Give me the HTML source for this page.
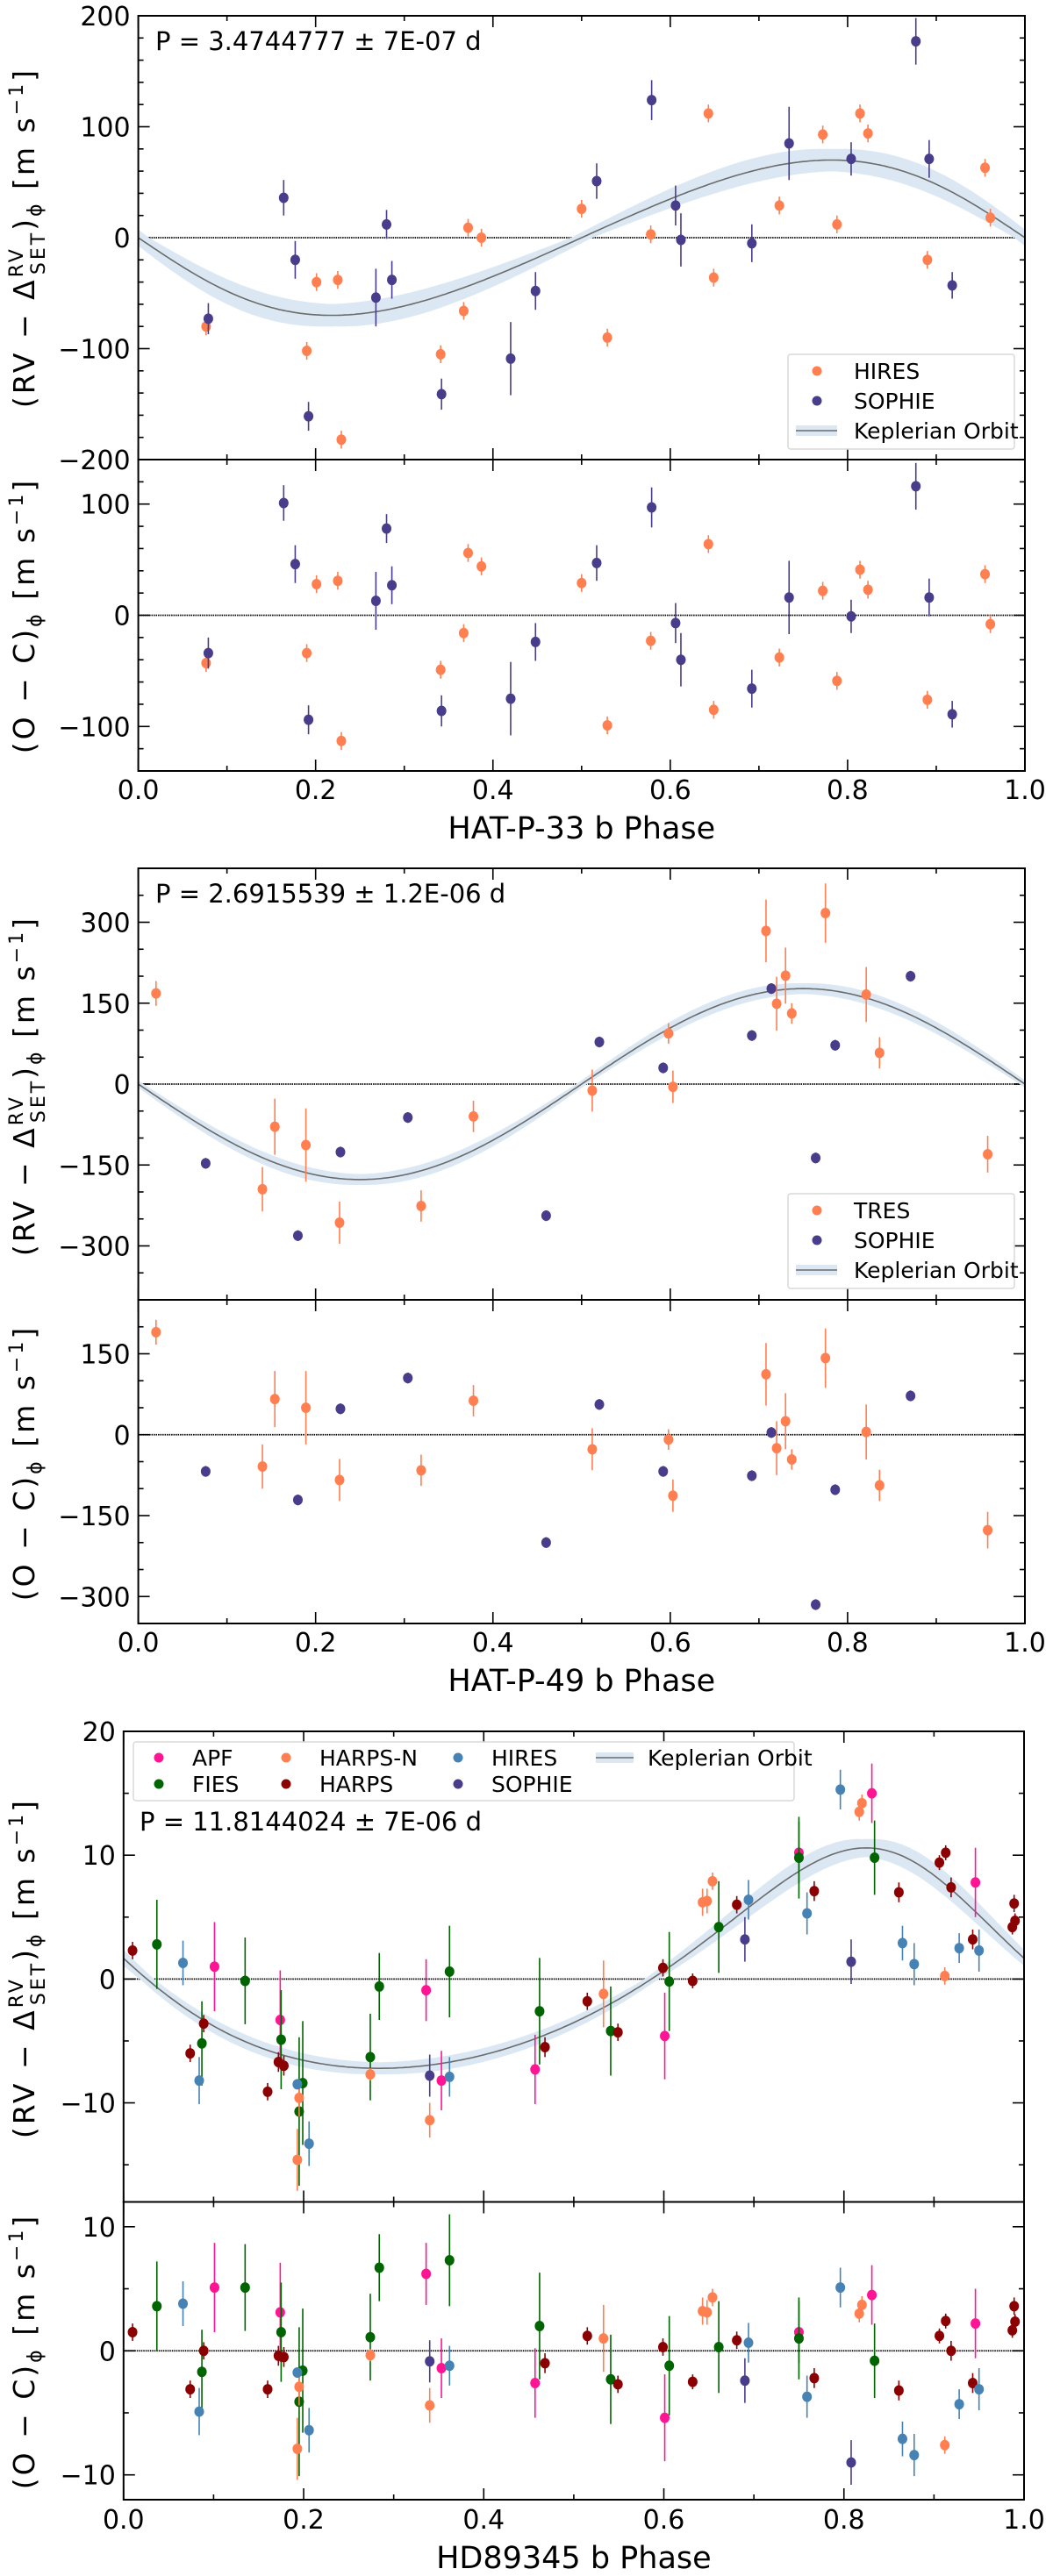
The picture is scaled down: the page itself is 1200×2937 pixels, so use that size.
<!DOCTYPE html>
<html><head><meta charset="utf-8"><title>Phase-folded RV</title>
<style>
html,body{margin:0;padding:0;background:#fff;}
svg{display:block;font-family:"DejaVu Sans","Liberation Sans",sans-serif;}
</style></head>
<body>
<svg id="chart" xmlns="http://www.w3.org/2000/svg" width="1200" height="2937" viewBox="0 0 1200 2937"></svg>
<script>
// ---------- Panel 1: HAT-P-33 b ----------
const p1HiresPhase = [0.0765,0.190,0.201,0.225,0.229,0.341,0.367,0.372,0.387,0.5,0.529,0.578,0.643,0.649,0.723,0.772,0.788,0.814,0.823,0.890,0.955,0.961];
const p1HiresRv    = [-80,-102,-40,-38,-182,-105,-66,9,0,26,-90,3,112,-36,29,93,12,112,94,-20,63,18];
const p1HiresRes   = [-43,-34,28,31,-113,-49,-16,56,44,29,-99,-23,64,-85,-38,22,-59,41,23,-76,37,-8];
const p1HiresErr   = [8,8,8,8,8,8,8,8,8,8,8,8,8,8,8,8,8,8,8,8,8,8];
const p1SophiePhase = [0.079,0.164,0.177,0.192,0.268,0.280,0.286,0.342,0.420,0.448,0.517,0.579,0.606,0.612,0.692,0.734,0.804,0.877,0.892,0.918];
const p1SophieRv    = [-73,36,-20,-161,-54,12,-38,-141,-109,-48,51,124,29,-2,-5,85,71,177,71,-43];
const p1SophieRes   = [-34,101,46,-94,13,78,27,-86,-75,-24,47,97,-7,-40,-66,16,-1,116,16,-89];
const p1SophieErr   = [14,16,17,13,26,13,17,14,33,17,16,18,18,24,17,33,15,21,17,12];
const p1TopTicks = [-200,-100,0,100,200];
const p1BotTicks = [-100,0,100];

// ---------- Panel 2: HAT-P-49 b ----------
const p2TresPhase = [0.020,0.140,0.154,0.189,0.227,0.319,0.378,0.512,0.598,0.603,0.708,0.720,0.730,0.737,0.775,0.821,0.836,0.958];
const p2TresRv    = [168,-195,-79,-113,-257,-226,-60,-12,94,-5,284,149,201,131,317,166,58,-130];
const p2TresRes   = [190,-59,66,50,-84,-66,63,-27,-9,-113,112,-25,25,-46,142,5,-94,-177];
const p2TresErr   = [23,41,52,68,39,29,29,39,19,30,58,50,52,19,55,51,29,34];
const p2SophiePhase = [0.076,0.180,0.228,0.304,0.460,0.520,0.592,0.692,0.714,0.764,0.786,0.871];
const p2SophieRv    = [-147,-281,-126,-62,-244,78,30,90,177,-137,72,200];
const p2SophieRes   = [-68,-121,48,105,-200,56,-68,-76,4,-315,-102,72];
const p2SophieErr   = [10,10,10,10,10,10,10,10,10,10,10,10];
const p2TopTicks = [-300,-150,0,150,300];
const p2BotTicks = [-300,-150,0,150];

// ---------- Panel 3: HD89345 b ----------
const p3ApfPhase = [0.101,0.174,0.336,0.353,0.457,0.601,0.750,0.831,0.946];
const p3ApfRv    = [1.0,-3.3,-0.9,-8.2,-7.3,-4.6,10.2,15.0,7.8];
const p3ApfRes   = [5.1,3.1,6.2,-1.4,-2.6,-5.4,1.5,4.5,2.2];
const p3ApfErr   = [3.6,4.0,2.5,2.4,2.8,3.5,2.5,2.4,2.8];
const p3FiesPhase = [0.037,0.087,0.135,0.175,0.195,0.199,0.274,0.284,0.362,0.462,0.541,0.606,0.661,0.750,0.834];
const p3FiesRv    = [2.8,-5.2,-0.15,-4.9,-10.7,-8.4,-6.3,-0.6,0.6,-2.6,-4.2,-0.2,4.2,9.8,9.8];
const p3FiesRes   = [3.6,-1.7,5.1,1.5,-4.1,-1.6,1.1,6.7,7.3,2.0,-2.3,-1.2,0.3,1.0,-0.8];
const p3FiesErr   = [3.6,3.4,3.5,4.0,6.0,5.0,3.5,2.7,3.7,4.3,3.6,4.0,3.7,3.3,3.0];
const p3HarpsNPhase = [0.193,0.195,0.274,0.340,0.533,0.643,0.648,0.654,0.817,0.820,0.912];
const p3HarpsNRv    = [-14.6,-9.6,-7.7,-11.4,-1.2,6.2,6.3,7.9,13.5,14.2,0.25];
const p3HarpsNRes   = [-7.9,-2.9,-0.35,-4.4,1.0,3.2,3.1,4.3,3.0,3.7,-7.6];
const p3HarpsNErr   = [2.5,1.5,0.5,1.4,2.7,1.1,1.0,0.7,0.7,0.7,0.7];
const p3HarpsPhase = [0.010,0.074,0.089,0.160,0.172,0.178,0.468,0.515,0.549,0.599,0.632,0.681,0.767,0.861,0.906,0.913,0.919,0.943,0.987,0.989,0.990];
const p3HarpsRv    = [2.3,-6.0,-3.6,-9.1,-6.7,-7.0,-5.5,-1.8,-4.3,0.9,-0.15,6.0,7.1,7.0,9.4,10.2,7.4,3.2,4.2,6.1,4.7];
const p3HarpsRes   = [1.5,-3.1,0,-3.1,-0.4,-0.5,-1.0,1.2,-2.7,0.3,-2.5,0.85,-2.2,-3.2,1.2,2.4,0,-2.6,1.65,3.6,2.35];
const p3HarpsErr   = [0.7,0.7,0.7,0.7,0.8,0.8,0.8,0.7,0.7,0.7,0.6,0.7,0.8,0.8,0.6,0.6,0.8,0.8,0.6,0.7,0.6];
const p3HiresPhase = [0.066,0.084,0.193,0.206,0.362,0.694,0.759,0.796,0.865,0.878,0.928,0.950];
const p3HiresRv    = [1.3,-8.2,-8.5,-13.3,-7.9,6.4,5.3,15.3,2.9,1.2,2.5,2.3];
const p3HiresRes   = [3.8,-4.9,-1.75,-6.4,-1.2,0.65,-3.7,5.1,-7.1,-8.4,-4.3,-3.1];
const p3HiresErr   = [1.8,1.9,0.4,1.8,1.6,1.6,1.7,1.6,1.4,1.7,1.2,1.7];
const p3SophiePhase = [0.340,0.690,0.808];
const p3SophieRv    = [-7.8,3.2,1.4];
const p3SophieRes   = [-0.85,-2.4,-9.0];
const p3SophieErr   = [1.7,1.8,1.8];
const p3TopTicks = [-10,0,10,20];
const p3BotTicks = [-10,0,10];

const xTicks = [0,0.2,0.4,0.6,0.8,1.0];

const NS = "http://www.w3.org/2000/svg";
const svg = document.getElementById("chart");
function mk(tag, attrs, parent){
  const e = document.createElementNS(NS, tag);
  for (const k in attrs) e.setAttribute(k, attrs[k]);
  (parent||svg).appendChild(e);
  return e;
}
function fmt(v, dec){ const s = dec ? v.toFixed(dec) : String(v); return s.replace("-", "\u2212"); }

function kepler(phi, K, e, w, tp){
  let M = 2*Math.PI*(phi - tp);
  M = ((M % (2*Math.PI)) + 2*Math.PI) % (2*Math.PI);
  let E = M;
  for (let i=0;i<30;i++) E = E - (E - e*Math.sin(E) - M)/(1 - e*Math.cos(E));
  const nu = 2*Math.atan(Math.sqrt((1+e)/(1-e))*Math.tan(E/2));
  return K*(Math.cos(nu + w) + e*Math.cos(w));
}

function drawAxes(g, x0, x1, y0, y1, yMin, yMax, yTicks, yMinorStep, showXLabels, name){
  const sy = v => y1 - (v - yMin)/(yMax - yMin)*(y1 - y0);
  const sx = p => x0 + p*(x1 - x0);
  for (let i=0;i<=10;i++){
    const p = i/10, major = (i%2===0), L = major?13:6;
    mk("line",{x1:sx(p),x2:sx(p),y1:y1,y2:y1-L,stroke:"#000","stroke-width":1.6},g);
    mk("line",{x1:sx(p),x2:sx(p),y1:y0,y2:y0+L,stroke:"#000","stroke-width":1.6},g);
  }
  const start = Math.ceil(yMin/yMinorStep)*yMinorStep;
  for (let v=start; v<=yMax+1e-9; v+=yMinorStep){
    const major = yTicks.some(t=>Math.abs(t-v)<1e-9);
    if (major) continue;
    mk("line",{x1:x0,x2:x0+6,y1:sy(v),y2:sy(v),stroke:"#000","stroke-width":1.6},g);
    mk("line",{x1:x1,x2:x1-6,y1:sy(v),y2:sy(v),stroke:"#000","stroke-width":1.6},g);
  }
  yTicks.forEach(v=>{
    mk("line",{x1:x0,x2:x0+13,y1:sy(v),y2:sy(v),stroke:"#000","stroke-width":1.6},g);
    mk("line",{x1:x1,x2:x1-13,y1:sy(v),y2:sy(v),stroke:"#000","stroke-width":1.6},g);
    const t = mk("text",{x:x0-9,y:sy(v)+11,"text-anchor":"end","font-size":30,fill:"#000"},g);
    t.textContent = fmt(v);
    
    
  });
  const z = mk("line",{x1:x0,x2:x1,y1:sy(0),y2:sy(0),stroke:"#000","stroke-width":1.8,"stroke-dasharray":"1.5,1"},g);
  
  
  return {sx, sy};
}

function drawSeries(g, ax, phases, vals, errs, color, name){
  const sg = mk("g",{},g);
  
  
  for (let i=0;i<phases.length;i++){
    const x = ax.sx(phases[i]);
    const eb = mk("line",{x1:x,x2:x,y1:ax.sy(vals[i]-errs[i]),y2:ax.sy(vals[i]+errs[i]),stroke:color,"stroke-width":1.6},sg);
    
    
    const c = mk("ellipse",{cx:x,cy:ax.sy(vals[i]),rx:5.5,ry:6,fill:color},sg);
    
    
  }
}

function drawModel(g, ax, K, e, w, tp, dK, dtp, name){
  const N = 300, up=[], lo=[], mid=[];
  for (let i=0;i<=N;i++){
    const p = i/N;
    let vs = [];
    [K-dK, K+dK].forEach(k=>[tp-dtp, tp, tp+dtp].forEach(t=>vs.push(kepler(p,k,e,w,t))));
    up.push([ax.sx(p), ax.sy(Math.max(...vs))]);
    lo.push([ax.sx(p), ax.sy(Math.min(...vs))]);
    mid.push([ax.sx(p), ax.sy(kepler(p,K,e,w,tp))]);
  }
  const pts = up.concat(lo.reverse()).map(q=>q[0].toFixed(1)+","+q[1].toFixed(1)).join(" ");
  const band = mk("polygon",{points:pts,fill:"#dbe8f3"},g);
  
  
  const line = mk("polyline",{points:mid.map(q=>q[0].toFixed(1)+","+q[1].toFixed(1)).join(" "),fill:"none",stroke:"#6b6b6b","stroke-width":1.6},g);
  
  
}

function frame(g, x0, x1, y0, y1, name){
  const r = mk("rect",{x:x0,y:y0,width:x1-x0,height:y1-y0,fill:"none",stroke:"#000","stroke-width":2},g);
  
  
}

function xLabels(g, x0, x1, yb, label, yl, name){
  xTicks.forEach(p=>{
    const t = mk("text",{x:x0+p*(x1-x0),y:yb,"text-anchor":"middle","font-size":30,fill:"#000"},g);
    t.textContent = p.toFixed(1);
    
    
  });
  const t = mk("text",{x:(x0+x1)/2,y:yl,"text-anchor":"middle","font-size":35,fill:"#000"},g);
  t.textContent = label;
  
  
}

function yTitleTop(g, cy, name){
  const t = mk("text",{x:0,y:0,transform:`translate(39,${cy}) rotate(-90)`,"text-anchor":"middle","font-size":33,fill:"#000","letter-spacing":"3"},g);
  t.innerHTML = '(RV \u2212 \u0394<tspan dy="-13" font-size="22">RV</tspan><tspan dx="-32" dy="25" font-size="22">SET</tspan><tspan dy="-12">)</tspan><tspan dy="8" font-size="22">\u03d5</tspan><tspan dy="-8">  [m s</tspan><tspan dy="-13" font-size="22">\u22121</tspan><tspan dy="13">]</tspan>';
  
  
}
function yTitleBot(g, cy, name){
  const t = mk("text",{x:0,y:0,transform:`translate(39,${cy}) rotate(-90)`,"text-anchor":"middle","font-size":33,fill:"#000","letter-spacing":"3"},g);
  t.innerHTML = '(O \u2212 C)<tspan dy="8" font-size="22">\u03d5</tspan><tspan dy="-8">  [m s</tspan><tspan dy="-13" font-size="22">\u22121</tspan><tspan dy="13">]</tspan>';
  
  
}

function periodText(g, x, y, s, name){
  const t = mk("text",{x:x,y:y,"font-size":29,fill:"#000"},g);
  t.textContent = s;
  
  
}

function legend2(g, bx, by, entries, name){
  const lg = mk("g",{},g);
  
  
  mk("rect",{x:bx,y:by,width:258,height:108,rx:3,fill:"#fff","fill-opacity":0.85,stroke:"#d8d8d8","stroke-width":1.5},lg);
  entries.forEach((en,i)=>{
    const cy = by + 19 + i*34;
    const eg = mk("g",{},lg);
    
    
    if (en[1]) mk("circle",{cx:bx+33,cy:cy,r:5.5,fill:en[1]},eg);
    else { mk("rect",{x:bx+9,y:cy-6,width:47,height:12,fill:"#dbe8f3"},eg); mk("line",{x1:bx+9,x2:bx+56,y1:cy,y2:cy,stroke:"#6b6b6b","stroke-width":1.6},eg); }
    const t = mk("text",{x:bx+75,y:cy+9,"font-size":25,fill:"#000"},eg);
    t.textContent = en[0];
  });
}

const ORANGE="#ff7f50", PURPLE="#483d8b", PINK="#ff1493", GREEN="#006400", DRED="#8b0000", BLUE="#4682b4";

// ===== Panel 1 =====
(function(){
  const g = mk("g",{});  
  const X0=157.6, X1=1168;
  const top = drawAxes(g,X0,X1,18,524,-200,200,p1TopTicks,20,false,'p1-top');
  drawModel(g, top, 70, 0.1, Math.PI/2, 0, 10, 0.012, 'p1');
  drawSeries(g, top, p1HiresPhase, p1HiresRv, p1HiresErr, ORANGE, 'p1-hires-rv');
  drawSeries(g, top, p1SophiePhase, p1SophieRv, p1SophieErr, PURPLE, 'p1-sophie-rv');
  const bot = drawAxes(g,X0,X1,524,879,-140,140,p1BotTicks,20,true,'p1-bottom');
  drawSeries(g, bot, p1HiresPhase, p1HiresRes, p1HiresErr, ORANGE, 'p1-hires-residual');
  drawSeries(g, bot, p1SophiePhase, p1SophieRes, p1SophieErr, PURPLE, 'p1-sophie-residual');
  frame(g,X0,X1,18,524,'p1-top'); frame(g,X0,X1,524,879,'p1-bottom');
  periodText(g,177,57,"P = 3.4744777 \u00b1 7E-07 d",'p1');
  legend2(g,898,404,[["HIRES",ORANGE],["SOPHIE",PURPLE],["Keplerian Orbit",null]],'p1');
  xLabels(g,X0,X1,911,"HAT-P-33 b Phase",956,'p1');
  yTitleTop(g,271,'p1-top'); yTitleBot(g,702,'p1-bottom');
})();

// ===== Panel 2 =====
(function(){
  const g = mk("g",{});  
  const X0=157.6, X1=1168;
  const top = drawAxes(g,X0,X1,990,1482,-400,400,p2TopTicks,50,false,'p2-top');
  drawModel(g, top, 177, 0, 0, 0.75, 10, 0.006, 'p2');
  drawSeries(g, top, p2TresPhase, p2TresRv, p2TresErr, ORANGE, 'p2-tres-rv');
  drawSeries(g, top, p2SophiePhase, p2SophieRv, p2SophieErr, PURPLE, 'p2-sophie-rv');
  const bot = drawAxes(g,X0,X1,1482,1851,-350,250,p2BotTicks,50,true,'p2-bottom');
  drawSeries(g, bot, p2TresPhase, p2TresRes, p2TresErr, ORANGE, 'p2-tres-residual');
  drawSeries(g, bot, p2SophiePhase, p2SophieRes, p2SophieErr, PURPLE, 'p2-sophie-residual');
  frame(g,X0,X1,990,1482,'p2-top'); frame(g,X0,X1,1482,1851,'p2-bottom');
  periodText(g,177,1029,"P = 2.6915539 \u00b1 1.2E-06 d",'p2');
  legend2(g,898,1361,[["TRES",ORANGE],["SOPHIE",PURPLE],["Keplerian Orbit",null]],'p2');
  xLabels(g,X0,X1,1883,"HAT-P-49 b Phase",1928,'p2');
  yTitleTop(g,1238,'p2-top'); yTitleBot(g,1668,'p2-bottom');
})();

// ===== Panel 3 =====
(function(){
  const g = mk("g",{});  
  const X0=140.8, X1=1167;
  const top = drawAxes(g,X0,X1,1974,2510.5,-18,20,p3TopTicks,5,false,'p3-top');
  drawModel(g, top, 8.9, 0.2, 0.32, 0.858, 0.6, 0.008, 'p3');
  drawSeries(g, top, p3ApfPhase, p3ApfRv, p3ApfErr, PINK, 'p3-apf-rv');
  drawSeries(g, top, p3FiesPhase, p3FiesRv, p3FiesErr, GREEN, 'p3-fies-rv');
  drawSeries(g, top, p3HarpsNPhase, p3HarpsNRv, p3HarpsNErr, ORANGE, 'p3-harps-n-rv');
  drawSeries(g, top, p3HarpsPhase, p3HarpsRv, p3HarpsErr, DRED, 'p3-harps-rv');
  drawSeries(g, top, p3HiresPhase, p3HiresRv, p3HiresErr, BLUE, 'p3-hires-rv');
  drawSeries(g, top, p3SophiePhase, p3SophieRv, p3SophieErr, PURPLE, 'p3-sophie-rv');
  const bot = drawAxes(g,X0,X1,2510.5,2850,-12,12,p3BotTicks,5,true,'p3-bottom');
  drawSeries(g, bot, p3ApfPhase, p3ApfRes, p3ApfErr, PINK, 'p3-apf-residual');
  drawSeries(g, bot, p3FiesPhase, p3FiesRes, p3FiesErr, GREEN, 'p3-fies-residual');
  drawSeries(g, bot, p3HarpsNPhase, p3HarpsNRes, p3HarpsNErr, ORANGE, 'p3-harps-n-residual');
  drawSeries(g, bot, p3HarpsPhase, p3HarpsRes, p3HarpsErr, DRED, 'p3-harps-residual');
  drawSeries(g, bot, p3HiresPhase, p3HiresRes, p3HiresErr, BLUE, 'p3-hires-residual');
  drawSeries(g, bot, p3SophiePhase, p3SophieRes, p3SophieErr, PURPLE, 'p3-sophie-residual');
  frame(g,X0,X1,1974,2510.5,'p3-top'); frame(g,X0,X1,2510.5,2850,'p3-bottom');
  periodText(g,159,2087,"P = 11.8144024 \u00b1 7E-06 d",'p3');
  const lg = mk("g",{},g);
  
  
  mk("rect",{x:152,y:1986,width:753,height:67,rx:3,fill:"#fff","fill-opacity":0.85,stroke:"#d8d8d8","stroke-width":1.5},lg);
  const ent = [["APF",PINK,181,2004],["FIES",GREEN,181,2034],["HARPS-N",ORANGE,326,2004],["HARPS",DRED,326,2034],["HIRES",BLUE,522,2004],["SOPHIE",PURPLE,522,2034]];
  ent.forEach(en=>{
    const eg = mk("g",{},lg);
    
    
    mk("circle",{cx:en[2],cy:en[3],r:5.5,fill:en[1]},eg);
    const t = mk("text",{x:en[2]+38,y:en[3]+9,"font-size":25,fill:"#000"},eg);
    t.textContent = en[0];
  });
  const kg = mk("g",{},lg);
  
  
  mk("rect",{x:679,y:1998,width:43,height:12,fill:"#dbe8f3"},kg);
  mk("line",{x1:679,x2:722,y1:2004,y2:2004,stroke:"#6b6b6b","stroke-width":1.6},kg);
  const kt = mk("text",{x:738,y:2013,"font-size":25,fill:"#000"},kg);
  kt.textContent = "Keplerian Orbit";
  xLabels(g,X0,X1,2883,"HD89345 b Phase",2928,'p3');
  yTitleTop(g,2244,'p3-top'); yTitleBot(g,2681,'p3-bottom');
})();
</script>
</body></html>
